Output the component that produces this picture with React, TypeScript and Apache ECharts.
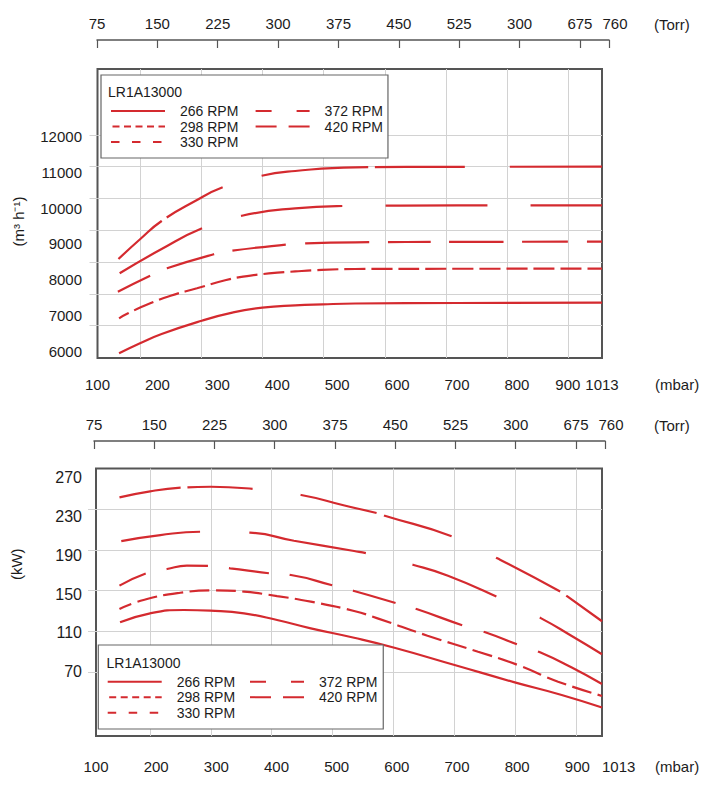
import React, { useEffect, useRef } from "react";
import * as echarts from "echarts";

// ---------- data ----------
const modelName = "LR1A13000";
const rpmNames = ["266 RPM", "298 RPM", "330 RPM", "372 RPM", "420 RPM"];

const mbarTicks = [100, 200, 300, 400, 500, 600, 700, 800, 900, 1013];
const mbarTickLabels = ["100", "200", "300", "400", "500", "600", "700", "800", "900", "1013"];
const torrTicks = [75, 150, 225, 300, 375, 450, 525, 600, 675, 760];
const torrTickLabels = ["75", "150", "225", "300", "375", "450", "525", "300", "675", "760"];
const flowTicks = [6000, 7000, 8000, 9000, 10000, 11000, 12000];
const powerTicks = [70, 110, 150, 190, 230, 270];

// volume flow [mbar, m3/h]
const flow266 = [[136, 5936], [171, 6216], [207, 6477], [274, 6849], [325, 7075], [375, 7215], [430, 7280], [476, 7308], [530, 7330], [700, 7345], [1013, 7353]];
const flow298 = [[136, 6916], [151, 7056], [188, 7336], [222, 7549], [266, 7756], [313, 7980], [343, 8081], [386, 8172], [430, 8228], [474, 8270], [530, 8296], [700, 8303], [1013, 8305]];
const flow330 = [[134, 7661], [188, 8109], [216, 8316], [294, 8708], [325, 8809], [414, 8977], [446, 9014], [530, 9044], [700, 9055], [1013, 9061]];
const flow372 = [[137, 8176], [207, 8856], [275, 9440], [341, 9788], [430, 9996], [510, 10060], [700, 10075], [1013, 10079]];
const flow420 = [[135, 8576], [171, 9130], [207, 9640], [263, 10200], [309, 10583], [374, 10908], [430, 11040], [530, 11143], [700, 11156], [1013, 11160]];

// absorbed power [mbar, kW]
const power266 = [[140, 120.9], [190, 130.2], [246, 133.6], [290, 132.9], [346, 130.2], [401, 123.3], [457, 114.7], [529, 105], [596, 94.7], [696, 76.9], [796, 59], [874, 46], [1013, 33]];
const power298 = [[139, 134.6], [179, 143.9], [240, 151.4], [296, 153.9], [346, 152.5], [401, 148], [457, 142.2], [529, 132.6], [568, 125], [651, 107.1], [735, 90.6], [801, 76.9], [868, 59.7], [1013, 45]];
const power330 = [[139, 158.7], [183, 171.4], [218, 175.9], [251, 179.3], [288, 179], [323, 176.6], [389, 171.4], [424, 169.7], [495, 158.7], [529, 153.2], [600, 140.5], [634, 134.3], [711, 117.4], [747, 110.6], [803, 97.5], [838, 90], [890, 74.5], [1013, 57.3]];
const power372 = [[142, 204.7], [207, 210.9], [274, 214.3], [356, 213.3], [429, 205], [529, 194.4], [550, 192.1], [628, 180], [685, 169], [768, 146.7], [840, 125], [890, 107], [1013, 88]];
const power420 = [[139, 249.8], [190, 256], [241, 259.7], [291, 260.7], [361, 258.4], [441, 252.2], [513, 241.3], [568, 233.3], [580, 230.8], [693, 209.2], [767, 186.9], [874, 151.9], [884, 147.3], [1013, 122]];

const flowSeries = [flow266, flow298, flow330, flow372, flow420];
const powerSeries = [power266, power298, power330, power372, power420];

// ---------- style ----------
const RED = "#d42a2f";
const GRID_COLOR = "#d2d2d2";
const FRAME_COLOR = "#555555";
const TEXT_COLOR = "#1c1c1c";
const FONT = "'Liberation Sans', Arial, Helvetica, sans-serif";

// the printed pressure axes are compressed towards atmospheric pressure
const TOP_KNOTS_MBAR = [100, 800, 900, 1013];
const TOP_KNOTS_AXIS = [100, 800, 885, 942];
const BOTTOM_KNOTS_MBAR = [100, 900, 1013];
const BOTTOM_KNOTS_AXIS = [100, 900, 941];
const TORR_KNOTS_MBAR = [100, 900, 1013];
const TORR_KNOTS_AXIS = [100, 900, 948];
const TORR_TO_MBAR = 1.33322;

function pressureScale(km: number[], ka: number[]) {
  return (m: number) => {
    let i = 0;
    while (i < km.length - 2 && m > km[i + 1]) i++;
    const f = (m - km[i]) / (km[i + 1] - km[i]);
    return ka[i] + f * (ka[i + 1] - ka[i]);
  };
}
const topScale = pressureScale(TOP_KNOTS_MBAR, TOP_KNOTS_AXIS);
const bottomScale = pressureScale(BOTTOM_KNOTS_MBAR, BOTTOM_KNOTS_AXIS);
const torrScale = pressureScale(TORR_KNOTS_MBAR, TORR_KNOTS_AXIS);

const steps = (start: number, step: number, n: number) => Array.from({ length: n }, (_, k) => start + step * k);

// dash patterns (px along the path) of the printed curves
const flowDash: any[] = [
  "solid",
  [21, 6],
  [36, 18.3, 49.3, 18.7, 53.7, 19.4, 64, 18.7, 43, 18.3, 54.3, 18.4, 46, 19, 300, 0],
  [94, 41, 102, 43, 102, 43, 300, 0],
  [57.7, 6, 63.7, 40.7, 107, 6.7, 90, 45, 300, 0],
];
const powerDash: any[] = [
  "solid",
  [20, 6.5],
  [29, 21.4, 41.8, 21.1, 40.3, 20.8, 43.9, 21.4, 44.4, 20.9, 49.4, 22.4, 35.6, 22.2, 300, 0],
  [79.5, 49.3, 118.5, 48, 90, 48.2, 300, 0],
  [62, 6.7, 65.4, 48.4, 78.2, 7.8, 70.8, 49.4, 72.5, 7.4, 300, 0],
];
const legendDash: any[] = ["solid", [7, 4.5], [8.5, 12.5], [16, 25], [21, 12]];

function nearestIndex(positions: number[], v: number) {
  let best = -1;
  let bd = Infinity;
  positions.forEach((p, i) => {
    const d = Math.abs(p - v);
    if (d < bd) { bd = d; best = i; }
  });
  return bd < 0.5 ? best : -1;
}

const baseText = { fontFamily: FONT, color: TEXT_COLOR, fontSize: 15 };

function pressureAxis(gridIndex: number, scale: (m: number) => number, gridVals: number[], margin: number, nameDrop: number, alignMax?: string) {
  const pos = mbarTicks.map(scale);
  return {
    type: "value",
    gridIndex,
    min: scale(mbarTicks[0]),
    max: scale(mbarTicks[mbarTicks.length - 1]),
    axisLine: { show: false },
    axisTick: { show: false, customValues: gridVals },
    splitLine: { show: true, lineStyle: { color: GRID_COLOR, width: 1 } },
    axisLabel: {
      ...baseText,
      customValues: pos,
      formatter: (v: number) => { const i = nearestIndex(pos, v); return i < 0 ? "" : mbarTickLabels[i]; },
      margin,
      alignMaxLabel: alignMax,
    },
    name: "\n(mbar)",
    nameLocation: "end",
    nameGap: 53,
    nameMoveOverlap: false,
    nameTextStyle: { ...baseText, align: "left", verticalAlign: "middle", lineHeight: nameDrop * 2 },
  };
}

function torrAxis(gridIndex: number, nameRise: number, nameGap: number) {
  const pos = torrTicks.map((t) => torrScale(t * TORR_TO_MBAR));
  const last = pos.length - 1;
  return {
    type: "value",
    gridIndex,
    position: "top",
    min: pos[0],
    max: pos[last],
    axisLine: { show: true, lineStyle: { color: FRAME_COLOR, width: 1.5 } },
    axisTick: { show: true, inside: true, length: 8, customValues: pos, lineStyle: { color: FRAME_COLOR, width: 1.2 } },
    splitLine: { show: false },
    axisLabel: {
      ...baseText,
      customValues: pos,
      formatter: (v: number) => {
        const i = nearestIndex(pos, v);
        if (i < 0) return "";
        return i === last ? "{shift|" + torrTickLabels[i] + "}" : torrTickLabels[i];
      },
      rich: { shift: { ...baseText, padding: [0, 0, 0, 12] } },
      margin: 8,
    },
    name: "(Torr)\n",
    nameLocation: "end",
    nameGap,
    nameMoveOverlap: false,
    nameTextStyle: { ...baseText, align: "left", verticalAlign: "middle", lineHeight: nameRise * 2 },
  };
}

function valueAxis(gridIndex: number, min: number, max: number, ticks: number[], gridVals: number[], name: string, nameShift: number[], margin: number, fontSize: number) {
  return {
    type: "value",
    gridIndex,
    min,
    max,
    axisLine: { show: false },
    axisTick: { show: true, length: 8, customValues: gridVals, lineStyle: { color: GRID_COLOR, width: 1 } },
    splitLine: { show: true, lineStyle: { color: GRID_COLOR, width: 1 } },
    axisLabel: { ...baseText, fontSize, customValues: ticks, margin, formatter: (v: number) => String(Math.round(v)) },
    name,
    nameLocation: "middle",
    nameRotate: 90,
    nameGap: 72,
    nameMoveOverlap: false,
    nameTextStyle: { ...baseText, padding: nameShift },
  };
}

function curve(name: string, data: number[][], scale: (m: number) => number, axis: number, dash: any, dashOffset = 0) {
  return {
    type: "line",
    name,
    xAxisIndex: axis,
    yAxisIndex: axis,
    data: data.map(([m, v]) => [scale(m), v]),
    symbol: "none",
    showSymbol: false,
    smooth: 0.5,
    silent: true,
    z: 2,
    itemStyle: { color: RED },
    lineStyle: { color: RED, width: 2.2, type: dash, dashOffset, cap: "butt" },
    emphasis: { disabled: true },
  };
}

const legendItem = (i: number) => ({ name: rpmNames[i], lineStyle: { type: legendDash[i], width: 2, color: RED } });

function legends(boxLeft: number, boxTop: number, boxW: number, padTop: number, padBottom: number, padLeft: number, col2Left: number) {
  const common = {
    orient: "vertical",
    itemWidth: 54,
    itemHeight: 14,
    itemGap: 1.5,
    selectedMode: false,
    itemStyle: { color: "rgba(0,0,0,0)", borderColor: "rgba(0,0,0,0)", borderWidth: 0 },
    textStyle: { fontFamily: FONT, color: TEXT_COLOR, fontSize: 14, lineHeight: 14, padding: [0, 0, 0, 10] },
  };
  const contentW = 54 + 5 + 10 + 58.4;
  return [
    {
      ...common,
      left: boxLeft,
      top: boxTop,
      padding: [padTop, boxW - padLeft - contentW, padBottom, padLeft],
      backgroundColor: "#ffffff",
      borderColor: "#666666",
      borderWidth: 1.2,
      data: [0, 1, 2].map(legendItem),
      z: 4,
    },
    {
      ...common,
      left: col2Left,
      top: boxTop + padTop,
      padding: 0,
      data: [3, 4].map(legendItem),
      z: 5,
    },
  ];
}

function buildOption() {
  const topGridX = steps(171, 102.2, 8);
  const topGridY = steps(6714, 889, 7);
  const botGridX = steps(189.5, 101.3, 8);
  const botGridY = steps(69.4, 42.05, 5);
  const titleStyle = { fontFamily: FONT, color: TEXT_COLOR, fontSize: 14, fontWeight: "normal" };

  return {
    animation: false,
    textStyle: { fontFamily: FONT },
    title: [
      { text: modelName, left: 108, top: 85, padding: 0, z: 6, textStyle: titleStyle },
      { text: modelName, left: 106.5, top: 656, padding: 0, z: 6, textStyle: titleStyle },
    ],
    grid: [
      { left: 97.5, right: 120, top: 69, height: 289, show: true, borderColor: FRAME_COLOR, borderWidth: 2, backgroundColor: "transparent", containLabel: false, outerBoundsMode: "none" },
      { left: 97, right: 113, top: 39, height: 1, show: false, containLabel: false, outerBoundsMode: "none" },
      { left: 96, right: 120, top: 468.5, height: 267.5, show: true, borderColor: FRAME_COLOR, borderWidth: 2, backgroundColor: "transparent", containLabel: false, outerBoundsMode: "none" },
      { left: 94, right: 117, top: 440, height: 1, show: false, containLabel: false, outerBoundsMode: "none" },
    ],
    xAxis: [
      pressureAxis(0, topScale, topGridX, 18.5, 26),
      torrAxis(1, 16, 45),
      pressureAxis(2, bottomScale, botGridX, 23, 30, "left"),
      torrAxis(3, 16, 49),
    ],
    yAxis: [
      valueAxis(0, 5805, 13895, flowTicks, topGridY, "(m³ h⁻¹)", [0, 16, 0, 0], 15.5, 15),
      { type: "value", gridIndex: 1, show: false, min: 0, max: 1 },
      valueAxis(2, 3.7, 279.5, powerTicks, botGridY, "(kW)", [0, 0, 0, 76], 14, 16),
      { type: "value", gridIndex: 3, show: false, min: 0, max: 1 },
    ],
    legend: [
      ...legends(101, 75, 286, 29, 9, 9, 254.6),
      ...legends(98.3, 645, 284, 29.7, 9.3, 8.4, 249),
    ],
    series: [
      ...flowSeries.map((d, i) => curve(rpmNames[i], d, topScale, 0, flowDash[i], i === 1 ? 10 : 0)),
      ...powerSeries.map((d, i) => curve(rpmNames[i], d, bottomScale, 2, powerDash[i], i === 1 ? 7 : 0)),
    ],
  };
}

export default function App() {
  const ref = useRef<HTMLDivElement>(null);
  useEffect(() => {
    document.body.style.margin = "0";
    if (!ref.current) return;
    const chart = echarts.init(ref.current, undefined, { renderer: "svg" });
    chart.setOption(buildOption() as any);
    return () => chart.dispose();
  }, []);
  return <div ref={ref} style={{ width: 722, height: 800, background: "#ffffff" }} />;
}
